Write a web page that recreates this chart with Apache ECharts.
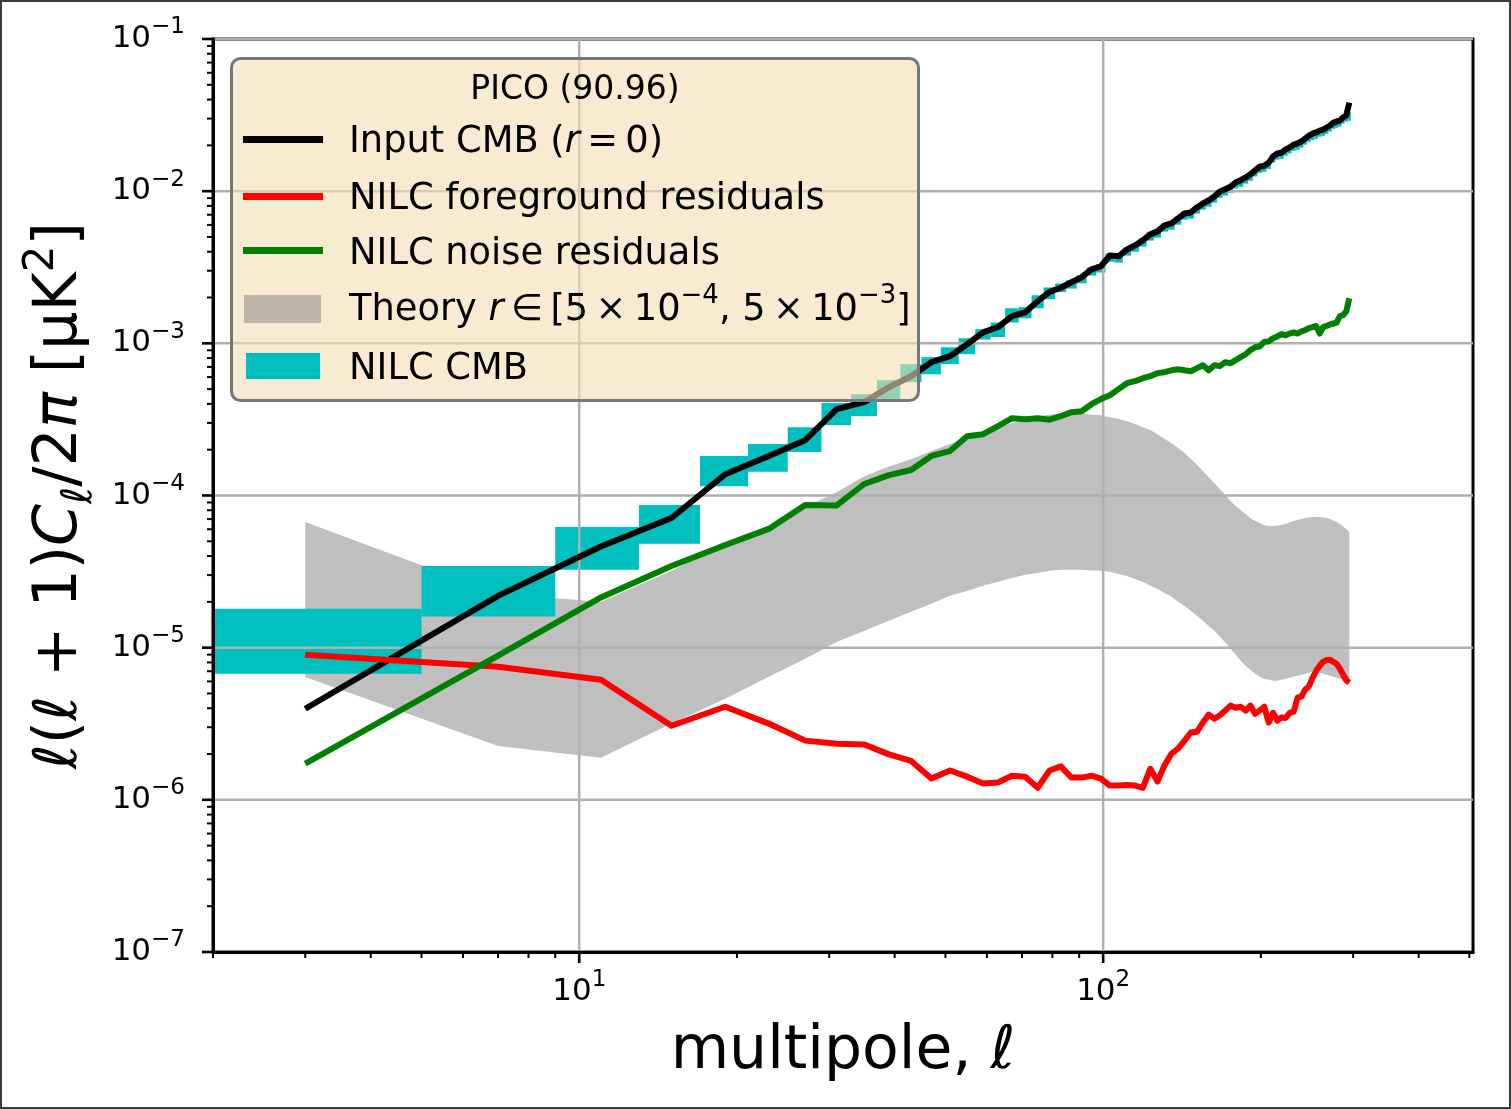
<!DOCTYPE html>
<html><head><meta charset="utf-8">
<script src="https://cdn.jsdelivr.net/npm/echarts@6/dist/echarts.min.js"></script>
<style>html,body{margin:0;padding:0;background:#fff}#c{width:1511px;height:1109px}</style>
</head><body><div id="c"></div>
<script>
// ---------- data ----------
const ells = [3,7,11,15,19,23,27,31,35,39,43,47,51,55,59,63,67,71,75,79,83,87,91,95,99,103,107,111,115,119,123,127,131,135,139,143,147,151,155,159,163,167,171,175,179,183,187,191,195,199,203,207,211,215,219,223,227,231,235,239,243,247,251,255,259,263,267,271,275,279,283,287,291,295];
const inputCMB = [3.97e-6,2.19e-5,4.62e-5,7.11e-5,1.38e-4,1.82e-4,2.31e-4,3.70e-4,4.11e-4,5.15e-4,6.08e-4,7.52e-4,
  8.23e-4,9.86e-4,1.18e-3,1.28e-3,1.51e-3,1.60e-3,1.89e-3,2.18e-3,2.32e-3,2.52e-3,2.72e-3,3.06e-3,3.21e-3,
  3.78e-3,3.73e-3,4.14e-3,4.40e-3,4.75e-3,5.20e-3,5.44e-3,5.96e-3,6.14e-3,6.62e-3,7.14e-3,7.25e-3,7.82e-3,8.30e-3,8.69e-3,9.23e-3,9.95e-3,
  1.03e-2,1.07e-2,1.14e-2,1.18e-2,1.23e-2,1.29e-2,1.37e-2,1.45e-2,1.47e-2,1.54e-2,1.69e-2,1.77e-2,1.79e-2,1.88e-2,1.94e-2,2.02e-2,
  2.06e-2,2.12e-2,2.22e-2,2.32e-2,2.39e-2,2.43e-2,2.50e-2,2.54e-2,2.62e-2,2.70e-2,2.82e-2,2.87e-2,2.91e-2,3.05e-2,3.14e-2,3.82e-2];
const fgResiduals = [8.97e-6,7.50e-6,6.15e-6,3.07e-6,4.09e-6,3.17e-6,2.45e-6,2.34e-6,2.31e-6,1.99e-6,1.80e-6,1.38e-6,
  1.56e-6,1.42e-6,1.28e-6,1.30e-6,1.44e-6,1.42e-6,1.20e-6,1.56e-6,1.66e-6,1.40e-6,1.40e-6,1.44e-6,1.38e-6,
  1.24e-6,1.24e-6,1.25e-6,1.24e-6,1.20e-6,1.60e-6,1.32e-6,1.69e-6,2.01e-6,2.17e-6,2.45e-6,2.77e-6,2.80e-6,3.22e-6,3.63e-6,3.41e-6,3.60e-6,
  3.86e-6,4.16e-6,4.03e-6,4.09e-6,3.86e-6,4.16e-6,3.68e-6,3.86e-6,4.09e-6,3.22e-6,3.73e-6,3.31e-6,3.48e-6,3.45e-6,3.73e-6,3.80e-6,
  4.69e-6,4.77e-6,5.30e-6,5.56e-6,6.34e-6,7.05e-6,7.60e-6,8.07e-6,8.30e-6,8.30e-6,8.07e-6,7.84e-6,7.28e-6,6.64e-6,6.10e-6,5.89e-6];
const noiseResiduals = [1.73e-6,8.85e-6,2.14e-5,3.44e-5,4.73e-5,6.03e-5,8.67e-5,8.60e-5,1.19e-4,1.36e-4,1.47e-4,1.82e-4,
  1.96e-4,2.45e-4,2.53e-4,2.86e-4,3.22e-4,3.17e-4,3.22e-4,3.15e-4,3.32e-4,3.53e-4,3.58e-4,3.98e-4,4.30e-4,
  4.56e-4,5.00e-4,5.47e-4,5.64e-4,5.90e-4,6.08e-4,6.37e-4,6.46e-4,6.65e-4,6.76e-4,6.65e-4,6.56e-4,6.87e-4,7.18e-4,6.65e-4,7.18e-4,7.08e-4,
  7.52e-4,7.40e-4,7.75e-4,8.11e-4,8.48e-4,9.02e-4,9.42e-4,9.57e-4,1.02e-3,1.03e-3,1.08e-3,1.11e-3,1.15e-3,1.13e-3,1.16e-3,1.18e-3,
  1.16e-3,1.20e-3,1.22e-3,1.26e-3,1.28e-3,1.30e-3,1.16e-3,1.28e-3,1.30e-3,1.33e-3,1.35e-3,1.37e-3,1.51e-3,1.53e-3,1.62e-3,1.98e-3];
const theoryHigh = [6.70e-5,2.26e-5,2.00e-5,3.20e-5,4.88e-5,6.31e-5,8.40e-5,1.05e-4,1.34e-4,1.55e-4,1.73e-4,1.96e-4,
  2.18e-4,2.38e-4,2.57e-4,2.77e-4,2.99e-4,3.13e-4,3.32e-4,3.40e-4,3.43e-4,3.46e-4,3.46e-4,3.40e-4,3.37e-4,
  3.27e-4,3.18e-4,3.08e-4,2.95e-4,2.81e-4,2.69e-4,2.53e-4,2.35e-4,2.21e-4,2.05e-4,1.90e-4,1.74e-4,1.59e-4,1.45e-4,1.32e-4,1.21e-4,1.10e-4,
  1.01e-4,9.20e-5,8.53e-5,8.03e-5,7.55e-5,7.11e-5,6.80e-5,6.60e-5,6.40e-5,6.31e-5,6.31e-5,6.35e-5,6.40e-5,6.50e-5,6.66e-5,6.80e-5,
  6.90e-5,7.00e-5,7.11e-5,7.16e-5,7.22e-5,7.22e-5,7.22e-5,7.16e-5,7.11e-5,7.00e-5,6.86e-5,6.70e-5,6.50e-5,6.26e-5,6.03e-5,5.76e-5];
const theoryLow = [6.41e-6,2.26e-6,1.89e-6,3.17e-6,4.62e-6,6.44e-6,8.46e-6,1.09e-5,1.29e-5,1.50e-5,1.72e-5,1.94e-5,
  2.19e-5,2.36e-5,2.55e-5,2.71e-5,2.87e-5,3.01e-5,3.10e-5,3.20e-5,3.25e-5,3.25e-5,3.25e-5,3.22e-5,3.20e-5,
  3.15e-5,3.05e-5,2.96e-5,2.83e-5,2.71e-5,2.55e-5,2.44e-5,2.29e-5,2.16e-5,2.00e-5,1.88e-5,1.75e-5,1.62e-5,1.50e-5,1.39e-5,1.29e-5,1.18e-5,
  1.08e-5,9.84e-6,8.98e-6,8.20e-6,7.60e-6,7.16e-6,6.74e-6,6.44e-6,6.25e-6,6.15e-6,6.06e-6,6.06e-6,6.15e-6,6.25e-6,6.35e-6,6.44e-6,
  6.54e-6,6.64e-6,6.74e-6,6.84e-6,6.94e-6,6.94e-6,6.84e-6,6.74e-6,6.64e-6,6.54e-6,6.44e-6,6.35e-6,6.25e-6,6.15e-6,6.06e-6,5.97e-6];
const nilcLow = [6.74e-6,1.60e-5,3.25e-5,4.81e-5,1.15e-4,1.43e-4,1.93e-4,2.90e-4,3.32e-4,4.17e-4,5.56e-4,6.26e-4,
  7.30e-4,8.49e-4,1.06e-3,1.10e-3,1.37e-3,1.46e-3,1.70e-3,1.95e-3,2.17e-3,2.29e-3,2.48e-3,2.79e-3,2.92e-3,
  3.44e-3,3.39e-3,3.77e-3,4.00e-3,4.32e-3,4.73e-3,4.95e-3,5.42e-3,5.59e-3,6.02e-3,6.50e-3,6.60e-3,7.12e-3,7.55e-3,7.91e-3,8.40e-3,9.05e-3,
  9.37e-3,9.74e-3,1.04e-2,1.07e-2,1.12e-2,1.17e-2,1.25e-2,1.32e-2,1.34e-2,1.40e-2,1.54e-2,1.61e-2,1.63e-2,1.71e-2,1.77e-2,1.84e-2,
  1.87e-2,1.93e-2,2.02e-2,2.11e-2,2.17e-2,2.21e-2,2.28e-2,2.31e-2,2.38e-2,2.46e-2,2.57e-2,2.61e-2,2.65e-2,2.78e-2,2.86e-2,2.90e-2];
const nilcHigh = [1.80e-5,3.44e-5,6.21e-5,8.67e-5,1.82e-4,2.18e-4,2.81e-4,4.05e-4,4.63e-4,5.73e-4,7.30e-4,8.11e-4,
  9.42e-4,1.08e-3,1.24e-3,1.37e-3,1.70e-3,1.73e-3,2.07e-3,2.33e-3,2.47e-3,2.60e-3,2.80e-3,3.15e-3,3.31e-3,
  3.89e-3,3.84e-3,4.26e-3,4.53e-3,4.89e-3,5.36e-3,5.60e-3,6.14e-3,6.32e-3,6.82e-3,7.35e-3,7.47e-3,8.05e-3,8.55e-3,8.95e-3,9.51e-3,1.02e-2,
  1.06e-2,1.10e-2,1.17e-2,1.22e-2,1.27e-2,1.33e-2,1.41e-2,1.49e-2,1.51e-2,1.59e-2,1.74e-2,1.82e-2,1.84e-2,1.94e-2,2.00e-2,2.08e-2,
  2.12e-2,2.18e-2,2.29e-2,2.39e-2,2.46e-2,2.50e-2,2.58e-2,2.62e-2,2.70e-2,2.78e-2,2.90e-2,2.96e-2,3.00e-2,3.14e-2,3.23e-2,3.30e-2];
const binHalfWidth = 2;
const xMajorTicks = [10, 100];
const xMinorTicks = [2,3,4,5,6,7,8,9,20,30,40,50,60,70,80,90,200,300,400,500];
const yMajorTicks = [1e-7,1e-6,1e-5,1e-4,1e-3,1e-2,1e-1];
const yMinorTicks = [2e-7,3e-7,4e-7,5e-7,6e-7,7e-7,8e-7,9e-7,2e-6,3e-6,4e-6,5e-6,6e-6,7e-6,8e-6,9e-6,
  2e-5,3e-5,4e-5,5e-5,6e-5,7e-5,8e-5,9e-5,2e-4,3e-4,4e-4,5e-4,6e-4,7e-4,8e-4,9e-4,
  2e-3,3e-3,4e-3,5e-3,6e-3,7e-3,8e-3,9e-3,2e-2,3e-2,4e-2,5e-2,6e-2,7e-2,8e-2,9e-2];
const legendTitle = 'PICO (90.96)';
const seriesNames = ['Input CMB (r = 0)','NILC foreground residuals','NILC noise residuals','Theory r ∈ [5 × 10⁻⁴, 5 × 10⁻³]','NILC CMB'];

// ---------- chart ----------
const FONT = 'DejaVu Sans';
const X_MIN = 2, X_MAX = 508, Y_MIN = 1e-7, Y_MAX = 1e-1;
const chart = echarts.init(document.getElementById('c'), null, {renderer: 'canvas', width: 1511, height: 1109});

function powLabel(v) {
  const l = Math.log10(v), e = Math.round(l);
  if (Math.abs(l - e) > 1e-6) return '';
  return '{b|10}{s|' + (e < 0 ? '\u2212' : '') + Math.abs(e) + '}';
}
const labelRich = {
  b: {fontSize: 31, fontFamily: FONT, color: '#000', lineHeight: 46},
  s: {fontSize: 23, fontFamily: FONT, color: '#000', lineHeight: 23, verticalAlign: 'top'}
};

function lineSeries(name, vals, color, z) {
  return {
    type: 'line', name: name, z: z, data: ells.map((l, i) => [l, vals[i]]),
    showSymbol: false, symbol: 'none', smooth: false, silent: true, animation: false,
    lineStyle: {color: color, width: 6, join: 'round', cap: 'butt'}
  };
}

const tickStyle = (major) => ({stroke: '#000', lineWidth: major ? 2.6 : 2});
const LEG_FONT = '36.8px "DejaVu Sans"';

const option = {
  animation: false,
  textStyle: {fontFamily: FONT},
  grid: {left: 213, top: 39, width: 1260, height: 913, show: true, borderColor: '#000', borderWidth: 3,
         backgroundColor: 'transparent', containLabel: false, outerBoundsMode: 'none'},
  xAxis: {
    type: 'log', logBase: 10, min: X_MIN, max: X_MAX, z: 10,
    axisLine: {show: true, onZero: false, lineStyle: {color: '#000', width: 3}},
    axisTick: {show: false}, splitLine: {show: false}, minorTick: {show: false}, minorSplitLine: {show: false},
    axisLabel: {formatter: powLabel, rich: labelRich, margin: 17, hideOverlap: false, showMinLabel: true, showMaxLabel: true},
    name: '{n|multipole, }{i|\u2113}', nameLocation: 'middle', nameGap: 65,
    nameTextStyle: {fontFamily: FONT, fontSize: 60, color: '#000', rich: {
      n: {fontFamily: FONT, fontSize: 60, color: '#000', lineHeight: 70},
      i: {fontFamily: FONT, fontSize: 60, fontStyle: 'italic', color: '#000', lineHeight: 70}
    }}
  },
  yAxis: {
    type: 'log', logBase: 10, min: Y_MIN, max: Y_MAX, z: 10,
    axisLine: {show: true, onZero: false, lineStyle: {color: '#000', width: 3}},
    axisTick: {show: false}, splitLine: {show: false}, minorTick: {show: false}, minorSplitLine: {show: false},
    axisLabel: {formatter: powLabel, rich: labelRich, margin: 28, hideOverlap: false},
    name: '{i|\u2113}{n|(}{i|\u2113}{n| + 1)}{i|C}{sub|\u2113}{n|/2}{i|\u03c0}{n| [\u03bcK}{sup|2}{n|]}',
    nameLocation: 'middle', nameGap: 103, nameRotate: 90,
    nameTextStyle: {fontFamily: FONT, fontSize: 60, color: '#000', rich: {
      n: {fontFamily: FONT, fontSize: 60, color: '#000', lineHeight: 80},
      i: {fontFamily: FONT, fontSize: 60, fontStyle: 'italic', color: '#000', lineHeight: 80},
      sub: {fontFamily: FONT, fontSize: 42, fontStyle: 'italic', color: '#000', lineHeight: 42, verticalAlign: 'bottom'},
      sup: {fontFamily: FONT, fontSize: 42, color: '#000', lineHeight: 42, verticalAlign: 'top'}
    }}
  },
  series: [
    { // theory band
      type: 'custom', name: seriesNames[3], z: 1, silent: true, clip: false,
      data: [[ells[0], theoryLow[0]]],
      renderItem: function (params, api) {
        const pts = [];
        for (let i = 0; i < ells.length; i++) pts.push(api.coord([ells[i], theoryHigh[i]]));
        for (let i = ells.length - 1; i >= 0; i--) pts.push(api.coord([ells[i], theoryLow[i]]));
        return {type: 'polygon', shape: {points: pts}, style: {fill: 'rgba(128,128,128,0.5)'}};
      }
    },
    { // NILC CMB boxes
      type: 'custom', name: seriesNames[4], z: 2, silent: true, clip: false,
      data: ells.map((l, i) => [l, nilcLow[i], nilcHigh[i]]),
      encode: {x: 0, y: [1, 2]},
      renderItem: function (params, api) {
        const l = api.value(0);
        const a = api.coord([l - binHalfWidth, api.value(2)]);
        const b = api.coord([l + binHalfWidth, api.value(1)]);
        const cs = params.coordSys;
        const x1 = Math.max(a[0], cs.x), x2 = Math.min(b[0], cs.x + cs.width);
        const y1 = Math.max(a[1], cs.y), y2 = Math.min(b[1], cs.y + cs.height);
        if (x2 <= x1 || y2 <= y1) return null;
        return {type: 'rect', shape: {x: x1, y: y1, width: x2 - x1, height: y2 - y1}, style: {fill: '#00bfbf'}};
      }
    },
    { // grid lines (above patches, below lines)
      type: 'custom', name: 'grid', z: 3, silent: true, clip: false,
      data: [[10, 1e-3]],
      renderItem: function (params, api) {
        const cs = params.coordSys, ch = [];
        xMajorTicks.forEach(v => {
          const p = api.coord([v, Y_MIN]);
          ch.push({type: 'line', shape: {x1: p[0], y1: cs.y, x2: p[0], y2: cs.y + cs.height}, style: {stroke: '#b0b0b0', lineWidth: 2.5}});
        });
        yMajorTicks.forEach(v => {
          const p = api.coord([X_MIN, v]);
          ch.push({type: 'line', shape: {x1: cs.x, y1: p[1], x2: cs.x + cs.width, y2: p[1]}, style: {stroke: '#b0b0b0', lineWidth: 2.5}});
        });
        return {type: 'group', children: ch};
      }
    },
    lineSeries(seriesNames[0], inputCMB, '#000000', 4),
    lineSeries(seriesNames[1], fgResiduals, '#ff0000', 4),
    lineSeries(seriesNames[2], noiseResiduals, '#008000', 4),
    { // x ticks
      type: 'custom', name: 'xticks', z: 11, silent: true, clip: false,
      data: xMajorTicks.map(v => [v, Y_MIN, 1]).concat(xMinorTicks.map(v => [v, Y_MIN, 0])),
      renderItem: function (params, api) {
        const p = api.coord([api.value(0), api.value(1)]);
        const major = api.value(2) === 1;
        const len = major ? 11 : 6;
        return {type: 'line', shape: {x1: p[0], y1: p[1], x2: p[0], y2: p[1] + len}, style: tickStyle(major)};
      }
    },
    { // y ticks
      type: 'custom', name: 'yticks', z: 11, silent: true, clip: false,
      data: yMajorTicks.map(v => [X_MIN, v, 1]).concat(yMinorTicks.map(v => [X_MIN, v, 0])),
      renderItem: function (params, api) {
        const p = api.coord([api.value(0), api.value(1)]);
        const major = api.value(2) === 1;
        const len = major ? 11 : 6;
        return {type: 'line', shape: {x1: p[0], y1: p[1], x2: p[0] - len, y2: p[1]}, style: tickStyle(major)};
      }
    }
  ],
  graphic: {elements: [
    {type: 'rect', z: 120, silent: true, shape: {x: 1, y: 1, width: 1509, height: 1107},
     style: {fill: 'none', stroke: '#3c3c3c', lineWidth: 2}},
    {type: 'rect', z: 100, silent: true, shape: {x: 231.5, y: 58.5, width: 687, height: 342, r: 9},
     style: {fill: 'rgba(245,222,179,0.6)', stroke: '#777777', lineWidth: 3}},
    {type: 'text', z: 101, silent: true, style: {text: legendTitle, x: 575, y: 90, align: 'center', verticalAlign: 'middle',
      font: '33px "DejaVu Sans"', fill: '#000'}},
    {type: 'line', z: 101, silent: true, shape: {x1: 243, y1: 139.5, x2: 323, y2: 139.5}, style: {stroke: '#000000', lineWidth: 7}},
    {type: 'line', z: 101, silent: true, shape: {x1: 243, y1: 196.5, x2: 323, y2: 196.5}, style: {stroke: '#ff0000', lineWidth: 7}},
    {type: 'line', z: 101, silent: true, shape: {x1: 243, y1: 250.5, x2: 323, y2: 250.5}, style: {stroke: '#008000', lineWidth: 7}},
    {type: 'rect', z: 101, silent: true, shape: {x: 244, y: 295, width: 77, height: 28}, style: {fill: 'rgba(128,128,128,0.5)'}},
    {type: 'rect', z: 101, silent: true, shape: {x: 246, y: 353, width: 74, height: 26}, style: {fill: '#00bfbf'}},
    {type: 'text', z: 101, silent: true, style: {text: 'Input CMB ({i|r}\u2009=\u20090)', x: 349, y: 142, verticalAlign: 'middle',
      font: LEG_FONT, fill: '#000', lineHeight: 48,
      rich: {i: {fontFamily: FONT, fontSize: 36.8, fontStyle: 'italic', fill: '#000', lineHeight: 48}}}},
    {type: 'text', z: 101, silent: true, style: {text: seriesNames[1], x: 349, y: 199.5, verticalAlign: 'middle',
      font: LEG_FONT, fill: '#000'}},
    {type: 'text', z: 101, silent: true, style: {text: seriesNames[2], x: 349, y: 254, verticalAlign: 'middle',
      font: LEG_FONT, fill: '#000'}},
    {type: 'text', z: 101, silent: true, style: {text: 'Theory {i|r}\u2009\u2208\u2009[5\u2009\u00d7\u200910{s|\u22124}, 5\u2009\u00d7\u200910{s|\u22123}]',
      x: 349, y: 310, verticalAlign: 'middle', font: LEG_FONT, fill: '#000', lineHeight: 54,
      rich: {i: {fontFamily: FONT, fontSize: 36.8, fontStyle: 'italic', fill: '#000', lineHeight: 54},
             s: {fontFamily: FONT, fontSize: 26, fill: '#000', lineHeight: 26, verticalAlign: 'top'}}}},
    {type: 'text', z: 101, silent: true, style: {text: seriesNames[4], x: 349, y: 369, verticalAlign: 'middle',
      font: LEG_FONT, fill: '#000'}}
  ]}
};
chart.setOption(option);
</script>
</body></html>
